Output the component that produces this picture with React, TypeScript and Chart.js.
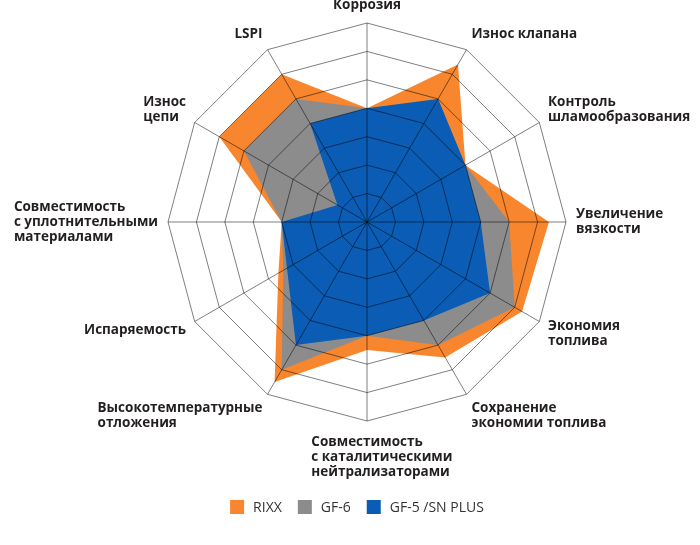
import React, { useEffect, useRef } from "react";
import { Chart, registerables } from "chart.js";

Chart.register(...registerables);

const categories: (string | string[])[] = [
  "Коррозия",
  "Износ клапана",
  ["Контроль", "шламообразования"],
  ["Увеличение", "вязкости"],
  ["Экономия", "топлива"],
  ["Сохранение", "экономии топлива"],
  ["Совместимость", "с каталитическими", "нейтрализаторами"],
  ["Высокотемпературные", "отложения"],
  "Испаряемость",
  ["Совместимость", "с уплотнительными", "материалами"],
  ["Износ", "цепи"],
  "LSPI",
];

const seriesNames = ["RIXX", "GF-6", "GF-5 /SN PLUS"];
const rixxValues = [4, 6.4, 4, 6.4, 6.3, 5.5, 4.5, 6.5, 3.6, 3, 6, 6];
const gf6Values = [4, 5, 4, 5, 6, 5, 4, 6, 3.4, 3, 5, 5];
const gf5Values = [4, 5, 4, 4, 5, 4, 4, 5, 3.25, 3, 1.2, 4];
const scaleMin = 0;
const scaleMax = 7;
const scaleStep = 1;

const COLORS = ["#F7862E", "#8C8C8C", "#0A5CB4"];
const GRID = "rgba(0,0,0,0.5)";
const LABEL_FONT = "bold 13.5px 'Open Sans'";
const LEGEND_FONT = "14px 'Open Sans'";
const LEGEND_CENTER_X = 357;
const LEGEND_Y = 507;

const pointLabelPlugin = {
  id: "customPointLabels",
  afterDraw(chart: any) {
    const r = chart.scales.r;
    const ctx = chart.ctx as CanvasRenderingContext2D;
    const labels = chart.data.labels as (string | string[])[];
    const n = labels.length;
    const lh = 15;
    ctx.save();
    ctx.font = LABEL_FONT;
    ctx.fillStyle = "#231f20";
    ctx.textBaseline = "middle";
    ctx.textAlign = "left";
    for (let i = 0; i < n; i++) {
      const lines = Array.isArray(labels[i]) ? (labels[i] as string[]) : [labels[i] as string];
      const p = r.getPointPosition(i, r.drawingArea + 10);
      const a = (360 / n) * i;
      const rad = (a * Math.PI) / 180;
      const w = Math.max(...lines.map((l) => ctx.measureText(l).width));
      const h = lines.length * lh;
      let left: number;
      if (a === 0 || a === 180) left = p.x - ctx.measureText(lines[0]).width / 2;
      else if (a < 180) left = p.x;
      else left = p.x - w;
      const cy = p.y - (Math.cos(rad) * h) / 2 + (a === 180 ? 4 : 0);
      const top = cy - h / 2;
      lines.forEach((l, j) => ctx.fillText(l, left, top + lh * j + lh / 2));
    }
    ctx.restore();
  },
};

const legendPlugin = {
  id: "customLegend",
  afterDraw(chart: any) {
    const ctx = chart.ctx as CanvasRenderingContext2D;
    ctx.save();
    ctx.font = LEGEND_FONT;
    const box = 14;
    const gapText = 9;
    const gapItem = 16;
    const items = chart.data.datasets.map((ds: any) => ({
      text: ds.label as string,
      color: ds.backgroundColor as string,
      w: ctx.measureText(ds.label).width,
    }));
    const total =
      items.reduce((s: number, it: any) => s + box + gapText + it.w, 0) +
      gapItem * (items.length - 1);
    let x = LEGEND_CENTER_X - total / 2;
    const y = LEGEND_Y;
    ctx.textBaseline = "middle";
    ctx.textAlign = "left";
    items.forEach((it: any) => {
      ctx.fillStyle = it.color;
      ctx.fillRect(x, y - box / 2, box, box);
      x += box + gapText;
      ctx.fillStyle = "#333333";
      ctx.fillText(it.text, x, y + 1);
      x += it.w + gapItem;
    });
    ctx.restore();
  },
};

export default function App() {
  const ref = useRef<HTMLCanvasElement | null>(null);

  useEffect(() => {
    if (!ref.current) return;
    const series = [rixxValues, gf6Values, gf5Values];
    const chart = new Chart(ref.current, {
      type: "radar",
      data: {
        labels: categories,
        datasets: series.map((vals, i) => ({
          label: seriesNames[i],
          data: vals,
          backgroundColor: COLORS[i],
          borderWidth: 0,
          pointRadius: 0,
          pointHoverRadius: 0,
          fill: "origin",
          order: 3 - i,
        })),
      },
      options: {
        responsive: false,
        maintainAspectRatio: false,
        animation: false,
        layout: { padding: { left: 168, right: 134, top: 23, bottom: 124 } },
        plugins: {
          legend: { display: false },
          tooltip: { enabled: false },
        },
        scales: {
          r: {
            min: scaleMin,
            max: scaleMax,
            ticks: { display: false, stepSize: scaleStep },
            grid: { color: GRID, lineWidth: 1, z: 1, circular: false },
            angleLines: { color: GRID, lineWidth: 1 },
            pointLabels: { display: false },
          },
        },
      },
      plugins: [pointLabelPlugin, legendPlugin],
    });
    return () => chart.destroy();
  }, []);

  return (
    <div style={{ position: "fixed", left: 0, top: 0, width: 700, height: 545, background: "#fff" }}>
      <canvas ref={ref} width={700} height={545} style={{ width: 700, height: 545, display: "block" }} />
    </div>
  );
}
